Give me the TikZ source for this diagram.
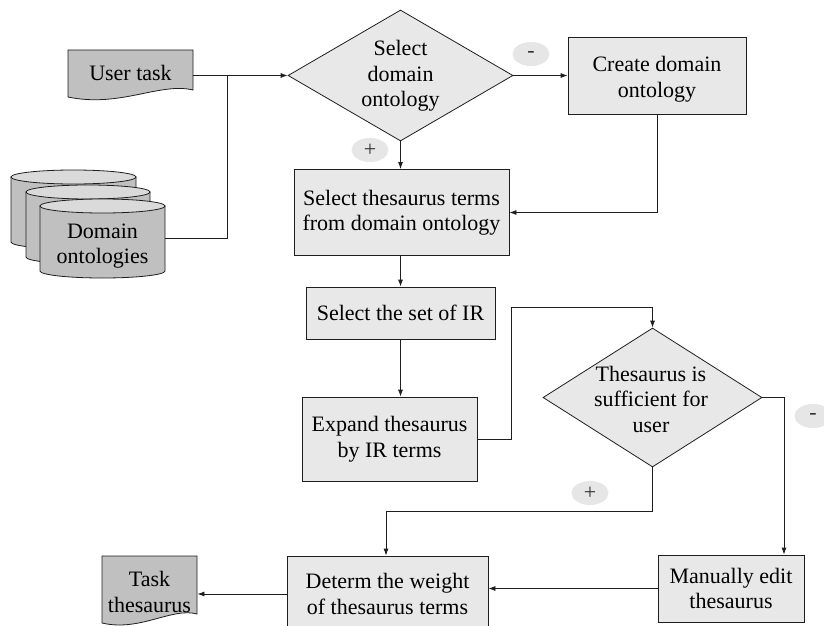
\documentclass[tikz,border=0pt]{standalone}
\usepackage{fontspec}
\setmainfont{Liberation Serif}
\usetikzlibrary{arrows.meta,shapes.geometric}
\definecolor{boxgray}{RGB}{232,232,232}
\definecolor{docgray}{RGB}{192,192,192}
\definecolor{topgray}{RGB}{218,218,218}
\definecolor{taggray}{RGB}{230,230,230}
\definecolor{linec}{RGB}{30,30,30}
\begin{document}
\begin{tikzpicture}[x=1pt,y=-1pt,
  line width=0.8pt,
  txt/.style={font=\fontsize{22}{25.5}\selectfont, align=center, inner sep=0pt},
  box/.style={txt, draw=linec, fill=boxgray, rectangle},
  dia/.style={draw=linec, fill=boxgray, diamond, inner sep=0pt},
  tag/.style={ellipse, fill=taggray, inner sep=0pt, minimum width=37, minimum height=24, text=black!80, font=\fontsize{22}{22}\selectfont},
  doc/.style={draw=linec, fill=docgray},
  cyl/.style={draw=linec, fill=docgray},
  cyltop/.style={draw=linec, fill=topgray},
  arr/.style={draw=linec, -{Latex[length=7pt,width=5pt]}},
  con/.style={draw=linec}]
\useasboundingbox (0,0) rectangle (824,626);
\clip (0,0) rectangle (824,626);

% user task document
\path[doc] (68,50) -- (193,50) -- (193,90) .. controls (160,82) and (120,108) .. (68,97) -- cycle;
\node[txt, minimum width=125] (ut) at (130.5,73) {User task};

% domain ontologies cylinders
\path[cyl] (11,177) -- (11,242) arc[start angle=180, end angle=0, x radius=62.5, y radius=7] -- (136,177) -- cycle;
\path[cyltop] (73.5,177) ellipse[x radius=62.5, y radius=7];
\path[cyl] (26,192) -- (26,257) arc[start angle=180, end angle=0, x radius=62, y radius=7] -- (150,192) -- cycle;
\path[cyltop] (88,192) ellipse[x radius=62, y radius=7];
\path[cyl] (40,206) -- (40,271) arc[start angle=180, end angle=0, x radius=62.5, y radius=7] -- (165,206) -- cycle;
\path[cyltop] (102.5,206) ellipse[x radius=62.5, y radius=7];
\node[txt] (domt) at (102.5,246) {Domain\\ontologies};
\node[inner sep=0pt, minimum width=125, minimum height=1] (dom) at (102.5,238) {};

% decision 1
\node[dia, minimum width=225, minimum height=131] (d1) at (400.5,75.5) {};
\node[txt] (d1t) at (400.5,76) {Select\\domain\\ontology};

% create domain ontology
\node[box, minimum width=178, minimum height=77] (create) at (657,75.5) {};
\node[txt] (createt) at (657,79) {Create domain\\ontology};

% select thesaurus terms
\node[box, minimum width=215, minimum height=86] (sel) at (401.5,212.5) {Select thesaurus terms\\from domain ontology};

% select IR
\node[box, minimum width=189, minimum height=52] (ir) at (400.5,313) {Select the set of IR};

% expand
\node[box, minimum width=175, minimum height=84] (exp) at (389.5,439) {Expand thesaurus\\by IR terms};

% decision 2
\node[dia, minimum width=219, minimum height=139] (d2) at (652.5,397.5) {};
\node[txt] (d2t) at (651,399) {Thesaurus is\\sufficient for\\user};

% determ
\node[box, minimum width=201, minimum height=76] (determ) at (387.5,594) {Determ the weight\\of thesaurus terms};

% manually edit
\node[box, minimum width=146, minimum height=67] (man) at (731,588.5) {Manually edit\\thesaurus};

% task thesaurus document
\path[doc] (102,556) -- (197,556) -- (197,614) .. controls (172,607) and (140,632) .. (102,623) -- cycle;
\node[txt, minimum width=95] (task) at (149.5,592) {Task\\thesaurus};

% tags
\node[tag] (tm1) at (531,54) {-};
\node[tag] (tp1) at (370,150) {+};
\node[tag] (tm2) at (813,416) {-};
\node[tag] (tp2) at (590,493) {+};

% helper coordinates
\coordinate (j) at (227,75.5);
\coordinate (c1) at (511,307);
\coordinate (c2) at (784,397.5);
\coordinate (c3) at (386,511);

% connectors
\draw[arr] (ut.east |- j) -- (d1.west);
\draw[con] (dom.east) -| (j);
\draw[arr] (d1.east) -- (create.west);
\draw[arr] (create.south) |- (sel.east);
\draw[arr] (d1.south) -- (d1.south |- sel.north);
\draw[arr] (sel.south -| ir.north) -- (ir.north);
\draw[arr] (ir.south) -- (ir.south |- exp.north);
\draw[arr] (exp.east) -| (c1) -| (d2.north);
\draw[arr] (d2.east) -- (c2) -- (c2 |- man.north);
\draw[arr] (d2.south) |- (c3) -- (c3 |- determ.north);
\draw[arr] (man.west) -- (man.west -| determ.east);
\draw[arr] (determ.west) -- (determ.west -| task.east);
\end{tikzpicture}
\end{document}
